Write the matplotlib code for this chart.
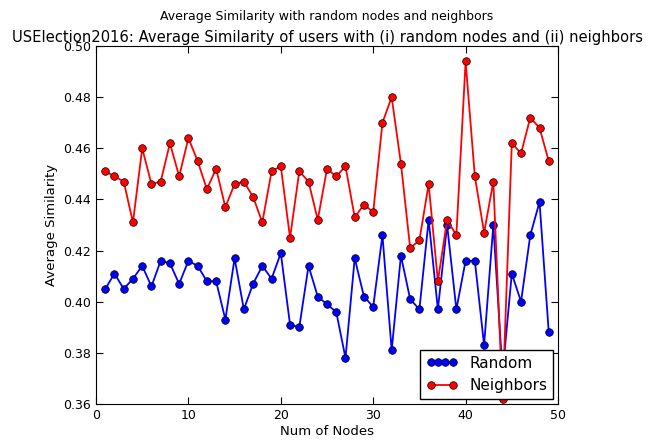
import numpy as np
import matplotlib
matplotlib.use('Agg')
import matplotlib.pyplot as plt
from matplotlib.legend_handler import HandlerLine2D

# number of nodes on x axis
nodes = list(range(1, 50))

# average similarity with random nodes
random_sim = [0.405, 0.411, 0.405, 0.409, 0.414, 0.406, 0.416, 0.415, 0.407, 0.416,
              0.414, 0.408, 0.408, 0.393, 0.417, 0.397, 0.407, 0.414, 0.409, 0.419,
              0.391, 0.390, 0.414, 0.402, 0.399, 0.396, 0.378, 0.417, 0.402, 0.398,
              0.426, 0.381, 0.418, 0.401, 0.397, 0.432, 0.397, 0.430, 0.397, 0.416,
              0.416, 0.383, 0.430, 0.372, 0.411, 0.400, 0.426, 0.439, 0.388]

# average similarity with neighbors
neighbor_sim = [0.451, 0.449, 0.447, 0.431, 0.460, 0.446, 0.447, 0.462, 0.449, 0.464,
                0.455, 0.444, 0.452, 0.437, 0.446, 0.447, 0.441, 0.431, 0.451, 0.453,
                0.425, 0.451, 0.447, 0.432, 0.452, 0.449, 0.453, 0.433, 0.438, 0.435,
                0.470, 0.480, 0.454, 0.421, 0.424, 0.446, 0.408, 0.432, 0.426, 0.494,
                0.449, 0.427, 0.447, 0.362, 0.462, 0.458, 0.472, 0.468, 0.455]


def main():
    fig = plt.figure(figsize=(6.54, 4.40), dpi=100)
    ax = fig.add_axes([96 / 654, 36 / 440, 462 / 654, 358 / 440])

    ax.plot(nodes, random_sim, color='b', marker='o', markersize=5.5,
            markeredgecolor='k', markeredgewidth=0.5, linewidth=1.3, label='Random')
    ax.plot(nodes, neighbor_sim, color='r', marker='o', markersize=5.5,
            markeredgecolor='k', markeredgewidth=0.5, linewidth=1.3, label='Neighbors')

    ax.set_xlim(0, 50)
    ax.set_ylim(0.36, 0.50)
    ax.set_xticks(np.arange(0, 51, 10))
    ax.set_yticks(np.arange(0.36, 0.501, 0.02))
    ax.yaxis.set_major_formatter(matplotlib.ticker.FormatStrFormatter('%.2f'))
    ax.tick_params(direction='in', top=True, right=True, labelsize=9, length=5)

    ax.set_xlabel('Num of Nodes', fontsize=9.5, labelpad=2)
    ax.set_ylabel('Average Similarity', fontsize=9.5)
    ax.set_title('USElection2016: Average Similarity of users with (i) random nodes and (ii) neighbors',
                 fontsize=10.6, pad=3)
    fig.suptitle('Average Similarity with random nodes and neighbors', fontsize=9, y=0.978)

    hl = ax.get_lines()
    ax.legend(loc='lower right', fontsize=11, fancybox=False, framealpha=1,
              edgecolor='k', borderaxespad=0.3,
              handler_map={hl[0]: HandlerLine2D(numpoints=4), hl[1]: HandlerLine2D(numpoints=2)})

    fig.savefig('out.png', dpi=100, facecolor='white')


if __name__ == '__main__':
    main()
